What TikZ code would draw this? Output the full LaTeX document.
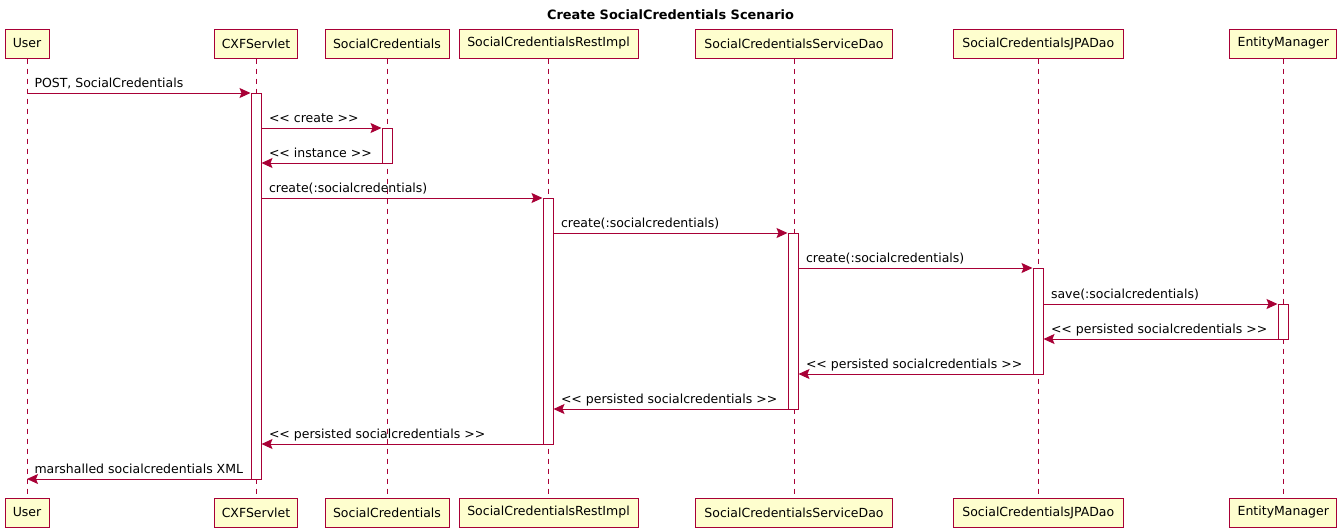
\documentclass[tikz,border=0pt]{standalone}
\usepackage{fontspec}
\setmainfont{DejaVu Sans}
\usetikzlibrary{arrows.meta}
\definecolor{plred}{HTML}{A80036}
\definecolor{plfill}{HTML}{FEFECE}
\begin{document}
\begin{tikzpicture}[x=1pt,y=-1pt,
  part/.style={draw=plred, fill=plfill, line width=1pt, minimum height=29pt, inner sep=0pt, font=\fontsize{12.5}{15}\selectfont},
  life/.style={draw=plred, line width=1pt, dash pattern=on 5pt off 5pt},
  act/.style={draw=plred, fill=white, line width=1pt, minimum width=10pt, inner sep=0pt},
  msg/.style={draw=plred, line width=1pt, -{Stealth[length=11pt,width=10pt,inset=2pt,fill=plred]}},
  lbl/.style={font=\fontsize{12.5}{15}\selectfont, inner sep=0pt, xshift=7pt, yshift=6pt},
  ttl/.style={font=\fontsize{12.9}{15}\selectfont\bfseries, inner sep=0pt}
]
\useasboundingbox (0,0) rectangle (1341,528);
\node[ttl, anchor=base] (title) at (670.5,19.3) {Create SocialCredentials Scenario};
% participants top
\node[part, minimum width=44pt]  (tU)  at (27,43.5)   {User};
\node[part, minimum width=83pt]  (tC)  at (256,43.5)  {CXFServlet};
\node[part, minimum width=124pt] (tS)  at (387,43.5)  {SocialCredentials};
\node[part, minimum width=179pt] (tR)  at (548.5,43.5)  {SocialCredentialsRestImpl};
\node[part, minimum width=197pt] (tD)  at (794,43.5)  {SocialCredentialsServiceDao};
\node[part, minimum width=170pt] (tJ)  at (1038.3,43.5) {SocialCredentialsJPADao};
\node[part, minimum width=106.7pt] (tE) at (1283.3,43.5) {EntityManager};
% participants bottom
\node[part, minimum width=44pt]  (bU)  at (27,512.5)   {User};
\node[part, minimum width=83pt]  (bC)  at (256,512.5)  {CXFServlet};
\node[part, minimum width=124pt] (bS)  at (387,512.5)  {SocialCredentials};
\node[part, minimum width=179pt] (bR)  at (548.5,512.5)  {SocialCredentialsRestImpl};
\node[part, minimum width=197pt] (bD)  at (794,512.5)  {SocialCredentialsServiceDao};
\node[part, minimum width=170pt] (bJ)  at (1038.3,512.5) {SocialCredentialsJPADao};
\node[part, minimum width=106.7pt] (bE) at (1283.3,512.5) {EntityManager};
% lifelines
\foreach \p in {U,C,S,R,D,J,E} \draw[life] (t\p.south) -- (b\p.north);
% activations
\node[act, minimum height=386pt] (aC) at (256,286) {};
\node[act, minimum height=35pt]  (aS) at (387,145.5) {};
\node[act, minimum height=246pt] (aR) at (548,321) {};
\node[act, minimum height=176pt] (aD) at (793,321) {};
\node[act, minimum height=106pt] (aJ) at (1038,321) {};
\node[act, minimum height=35pt]  (aE) at (1283,321.5) {};
% messages
\draw[msg] (tU.south |- 0,93) -- (aC.west |- 0,93) node[lbl, pos=0, anchor=base west] {POST, SocialCredentials};
\draw[msg] (aC.east |- 0,128) -- (aS.west |- 0,128) node[lbl, pos=0, anchor=base west] {<{}< create >{}>};
\draw[msg] (aS.west |- 0,163) -- (aC.east |- 0,163) node[lbl, pos=1, anchor=base west] {<{}< instance >{}>};
\draw[msg] (aC.east |- 0,198) -- (aR.west |- 0,198) node[lbl, pos=0, anchor=base west] {create(:socialcredentials)};
\draw[msg] (aR.east |- 0,233) -- (aD.west |- 0,233) node[lbl, pos=0, anchor=base west] {create(:socialcredentials)};
\draw[msg] (aD.east |- 0,268) -- (aJ.west |- 0,268) node[lbl, pos=0, anchor=base west] {create(:socialcredentials)};
\draw[msg] (aJ.east |- 0,304) -- (aE.west |- 0,304) node[lbl, pos=0, anchor=base west] {save(:socialcredentials)};
\draw[msg] (aE.west |- 0,339) -- (aJ.east |- 0,339) node[lbl, pos=1, anchor=base west] {<{}< persisted socialcredentials >{}>};
\draw[msg] (aJ.west |- 0,374) -- (aD.east |- 0,374) node[lbl, pos=1, anchor=base west] {<{}< persisted socialcredentials >{}>};
\draw[msg] (aD.west |- 0,409) -- (aR.east |- 0,409) node[lbl, pos=1, anchor=base west] {<{}< persisted socialcredentials >{}>};
\draw[msg] (aR.west |- 0,444) -- (aC.east |- 0,444) node[lbl, pos=1, anchor=base west] {<{}< persisted socialcredentials >{}>};
\draw[msg] (aC.west |- 0,479) -- (bU.north |- 0,479) node[lbl, pos=1, anchor=base west] {marshalled socialcredentials XML};
\end{tikzpicture}
\end{document}
